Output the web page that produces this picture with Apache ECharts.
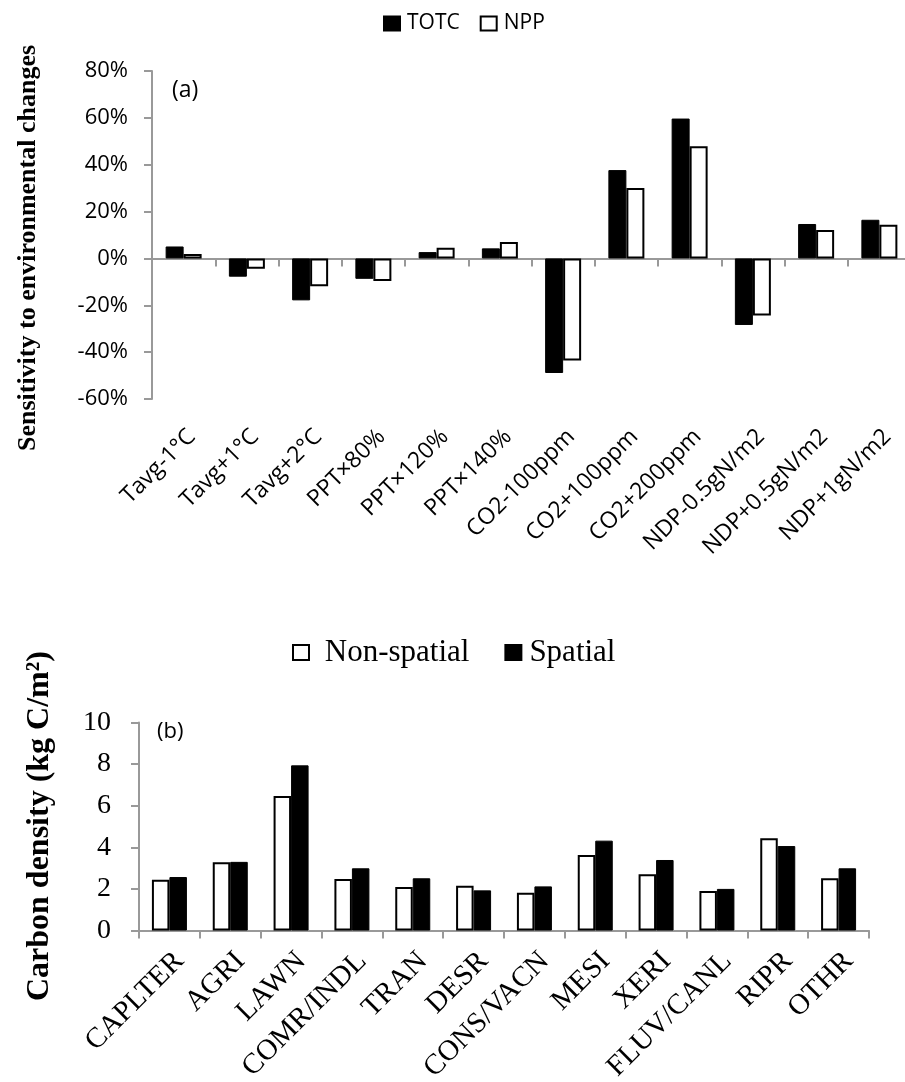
<!DOCTYPE html>
<html>
<head>
<meta charset="utf-8">
<script src="https://cdn.jsdelivr.net/npm/echarts@6/dist/echarts.min.js"></script>
<style>
html,body{margin:0;padding:0;background:#fff;}
#chart{width:905px;height:1082px;}
</style>
</head>
<body>
<div id="chart"></div>
<script>
// Panel (a) data (percent)
const catsA = ['Tavg-1°C','Tavg+1°C','Tavg+2°C','PPT×80%','PPT×120%','PPT×140%','CO2-100ppm','CO2+100ppm','CO2+200ppm','NDP-0.5gN/m2','NDP+0.5gN/m2','NDP+1gN/m2'];
const totc = [5.1, -7.8, -17.9, -8.7, 2.7, 4.3, -48.9, 37.7, 59.7, -28.4, 14.7, 16.5];
const npp  = [1.9, -4.4, -11.9, -9.6, 4.6, 7.0, -43.6, 30.1, 47.9, -24.4, 12.1, 14.4];
const ticksA = {min: -60, max: 80, interval: 20};

// Panel (b) data (kg C/m2)
const catsB = ['CAPLTER','AGRI','LAWN','COMR/INDL','TRAN','DESR','CONS/VACN','MESI','XERI','FLUV/CANL','RIPR','OTHR'];
const nonSpatial = [2.44, 3.28, 6.47, 2.48, 2.09, 2.15, 1.82, 3.63, 2.70, 1.90, 4.43, 2.51];
const spatial    = [2.57, 3.30, 7.94, 2.99, 2.51, 1.93, 2.12, 4.32, 3.39, 2.00, 4.06, 2.99];
const ticksB = {min: 0, max: 10, interval: 2};

const SANS = '"Open Sans", sans-serif';
const SERIF = '"Liberation Serif", "Times New Roman", serif';
const AX = '#999';

const chart = echarts.init(document.getElementById('chart'), null, {renderer: 'canvas'});
chart.setOption({
  animation: false,
  backgroundColor: '#fff',
  grid: [
    {left: 152, right: -6, top: 71, bottom: 683, containLabel: false, outerBoundsMode: 'none'},
    {left: 139, right: 36, top: 722.5, bottom: 151.5, containLabel: false, outerBoundsMode: 'none'}
  ],
  legend: [
    {
      data: ['TOTC', 'NPP'], left: 383, top: 13, padding: 0, icon: 'rect',
      itemWidth: 16, itemHeight: 14, itemGap: 20,
      textStyle: {fontFamily: SANS, fontSize: 21, color: '#000', padding: [0, 0, 0, 2]}
    },
    {
      data: ['Non-spatial', 'Spatial'], left: 292, top: 637, padding: 0, icon: 'rect',
      itemWidth: 16, itemHeight: 15, itemGap: 35,
      formatter: function (name) { return name === 'Non-spatial' ? ' ' + name : name; },
      textStyle: {fontFamily: SERIF, fontSize: 31, color: '#000', padding: [0, 0, 0, 3]}
    }
  ],
  xAxis: [
    {
      gridIndex: 0, type: 'category', data: catsA, position: 'bottom',
      axisLine: {show: false, onZero: false}, axisTick: {show: false},
      axisLabel: {interval: 0, rotate: 45, margin: 26, verticalAlign: 'top',
        fontFamily: SANS, fontSize: 23, color: '#000'}
    },
    {
      gridIndex: 0, type: 'category', data: catsA, position: 'bottom',
      axisLine: {show: true, onZero: true, lineStyle: {color: AX, width: 2}},
      axisTick: {show: true, interval: 0, length: 8, lineStyle: {color: AX, width: 2}},
      axisLabel: {show: false}
    },
    {
      gridIndex: 1, type: 'category', data: catsB,
      axisLine: {show: true, lineStyle: {color: AX, width: 2}},
      axisTick: {show: true, interval: 0, length: 8, lineStyle: {color: AX, width: 2}},
      axisLabel: {interval: 0, rotate: 45, margin: 16, verticalAlign: 'top',
        fontFamily: SERIF, fontSize: 29, color: '#000'}
    }
  ],
  yAxis: [
    {
      gridIndex: 0, type: 'value', min: ticksA.min, max: ticksA.max, interval: ticksA.interval,
      axisLine: {show: true, lineStyle: {color: AX, width: 2}},
      axisTick: {show: true, length: 8, lineStyle: {color: AX, width: 2}},
      splitLine: {show: false},
      axisLabel: {formatter: '{value}%', margin: 24, fontFamily: SANS, fontSize: 22, color: '#000'}
    },
    {
      gridIndex: 1, type: 'value', min: ticksB.min, max: ticksB.max, interval: ticksB.interval,
      axisLine: {show: true, lineStyle: {color: AX, width: 2}},
      axisTick: {show: true, length: 8, lineStyle: {color: AX, width: 2}},
      splitLine: {show: false},
      axisLabel: {margin: 28, fontFamily: SERIF, fontSize: 28, color: '#000'}
    }
  ],
  series: [
    {name: 'TOTC', type: 'bar', xAxisIndex: 0, yAxisIndex: 0, data: totc, barWidth: 18, barGap: '0%',
      itemStyle: {color: '#000', borderColor: '#000', borderWidth: 1}},
    {name: 'NPP', type: 'bar', xAxisIndex: 0, yAxisIndex: 0, data: npp, barWidth: 18, barGap: '0%',
      itemStyle: {color: '#fff', borderColor: '#000', borderWidth: 2}},
    {name: 'Non-spatial', type: 'bar', xAxisIndex: 2, yAxisIndex: 1, data: nonSpatial, barWidth: 17.5, barGap: '0%',
      itemStyle: {color: '#fff', borderColor: '#000', borderWidth: 2}},
    {name: 'Spatial', type: 'bar', xAxisIndex: 2, yAxisIndex: 1, data: spatial, barWidth: 17.5, barGap: '0%',
      itemStyle: {color: '#000', borderColor: '#000', borderWidth: 1}}
  ],
  graphic: [
    {type: 'text', x: 28, y: 248, rotation: Math.PI / 2,
      style: {text: 'Sensitivity to environmental changes', font: 'bold 26px ' + SERIF,
        textAlign: 'center', textVerticalAlign: 'middle', fill: '#000'}},
    {type: 'text', x: 40, y: 826, rotation: Math.PI / 2,
      style: {text: 'Carbon density (kg C/m²)', font: 'bold 32px ' + SERIF,
        textAlign: 'center', textVerticalAlign: 'middle', fill: '#000'}},
    {type: 'text', x: 172, y: 90,
      style: {text: '(a)', font: '23px ' + SANS, textAlign: 'left', textVerticalAlign: 'middle', fill: '#000'}},
    {type: 'text', x: 157, y: 732,
      style: {text: '(b)', font: '22px ' + SANS, textAlign: 'left', textVerticalAlign: 'middle', fill: '#000'}}
  ]
});
</script>
</body>
</html>
